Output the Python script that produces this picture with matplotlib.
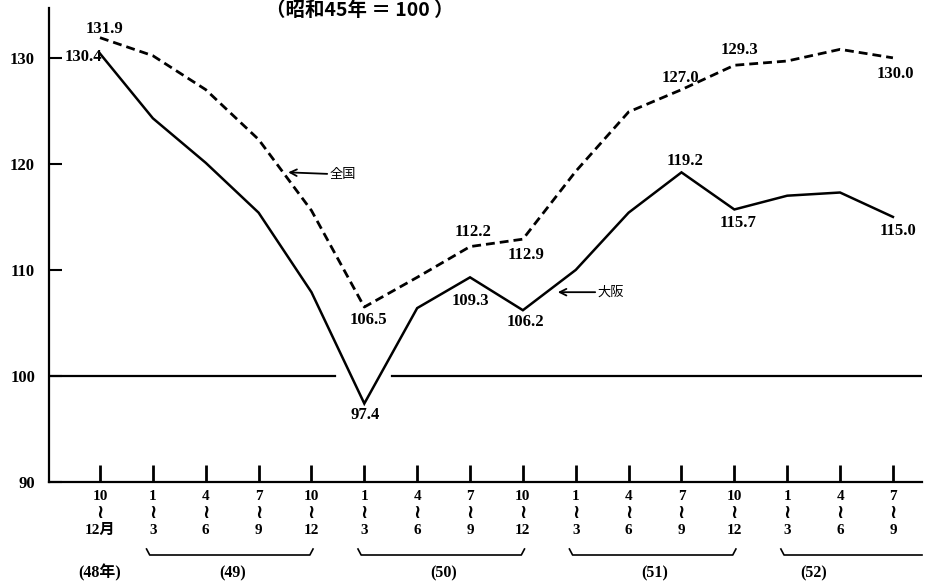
import matplotlib
matplotlib.use("Agg")
import matplotlib.pyplot as plt
from matplotlib import transforms

# ---------------- data ----------------
quarter_start = ["10", "1", "4", "7", "10", "1", "4", "7", "10", "1", "4", "7", "10", "1", "4", "7"]
quarter_end = ["12月", "3", "6", "9", "12", "3", "6", "9", "12", "3", "6", "9", "12", "3", "6", "9"]
year_labels = ["(48年)", "(49)", "(50)", "(51)", "(52)"]
year_label_pos = [0, 2.5, 6.5, 10.5, 13.5]
year_spans = [(1, 4), (5, 8), (9, 12), (13, None)]

national = [131.9, 130.2, 127.0, 122.3, 115.6, 106.5, 109.3, 112.2,
            112.9, 119.3, 124.9, 127.0, 129.3, 129.7, 130.8, 130.0]
osaka = [130.4, 124.3, 120.1, 115.4, 107.9, 97.4, 106.4, 109.3,
         106.2, 110.0, 115.4, 119.2, 115.7, 117.0, 117.3, 115.0]

national_labeled = [0, 5, 7, 8, 11, 12, 15]
osaka_labeled = [0, 5, 7, 8, 11, 12, 15]

yticks = [90, 100, 110, 120, 130]
title = "（昭和45年 ＝ 100 ）"

# ---------------- style ----------------
SERIF = ["Liberation Serif", "Noto Sans CJK JP", "DejaVu Sans"]
JP = ["Noto Sans CJK JP", "DejaVu Sans"]
plt.rcParams["font.family"] = SERIF

W, H = 934, 586
fig = plt.figure(figsize=(W / 100, H / 100), dpi=100)
ax_left, ax_right, ax_bottom, ax_top = 49, 922, 482, 8
ax = fig.add_axes([ax_left / W, (H - ax_bottom) / H,
                   (ax_right - ax_left) / W, (ax_bottom - ax_top) / H])
h_px = ax_bottom - ax_top

x = list(range(len(national)))
ax.set_xlim(-0.965, 15.55)
ax.set_ylim(90, 134.7)

ax.plot(x, osaka, color="black", lw=1.8, solid_joinstyle="miter")
ax.plot(x, national, color="black", lw=2.0, linestyle=(0, (3.2, 1.8)))

# baseline 100 with a gap
ax.axhline(100, xmin=0, xmax=0.3276, color="black", lw=1.6)
ax.axhline(100, xmin=0.393, xmax=1.0, color="black", lw=1.6)

for s in ["top", "right"]:
    ax.spines[s].set_visible(False)
for s in ["left", "bottom"]:
    ax.spines[s].set_linewidth(1.6)

ax.set_yticks(yticks)
ax.set_yticklabels([str(v) for v in yticks], fontsize=12, fontweight="bold")
ax.tick_params(axis="y", direction="in", length=9, width=1.5, pad=10)
ax.set_xticks(x)
ax.set_xticklabels([])
ax.tick_params(axis="x", direction="in", length=12, width=2.0)

# x tick labels (three rows)
for i in x:
    for txt, off, fs in [(quarter_start[i], -15, 11), ("≀", -32, 14),
                         (quarter_end[i], -48, 11)]:
        ax.annotate(txt, xy=(i, 0), xycoords=("data", "axes fraction"),
                    xytext=(0, off), textcoords="offset pixels",
                    ha="center", va="center", fontsize=fs, fontweight="bold",
                    family=SERIF, annotation_clip=False)

# year brackets
blend = transforms.blended_transform_factory(ax.transData, ax.transAxes)
y_low = -73 / h_px
y_hi = -67 / h_px
for a, b in year_spans:
    xs = a - 0.12
    if b is None:
        xe = ax.get_xlim()[1]
        ax.plot([xs, xs + 0.06, xe], [y_hi, y_low, y_low], color="black",
                lw=1.2, transform=blend, clip_on=False)
    else:
        xe = b + 0.03
        ax.plot([xs, xs + 0.06, xe - 0.06, xe], [y_hi, y_low, y_low, y_hi],
                color="black", lw=1.2, transform=blend, clip_on=False)

for lab, pos in zip(year_labels, year_label_pos):
    ax.annotate(lab, xy=(pos, 0), xycoords=("data", "axes fraction"),
                xytext=(0, -91), textcoords="offset pixels",
                ha="center", va="center", fontsize=11.5, fontweight="bold",
                family=SERIF, annotation_clip=False)

# value labels
nat_off = {0: (4, 9), 5: (4, -13), 7: (3, 15), 8: (3, -16), 11: (-1, 12),
           12: (5, 15), 15: (2, -16)}
osa_off = {0: (-17, -3), 5: (1, -11), 7: (0, -24), 8: (3, -12), 11: (4, 11),
           12: (4, -14), 15: (5, -14)}
for series, idxs, offs in [(national, national_labeled, nat_off),
                           (osaka, osaka_labeled, osa_off)]:
    for i in idxs:
        dx, dy = offs[i]
        ax.annotate(f"{series[i]:.1f}", xy=(i, series[i]), xytext=(dx, dy),
                    textcoords="offset pixels", ha="center", va="center",
                    fontsize=12, fontweight="bold", family=SERIF,
                    annotation_clip=False)

# series name callouts
ax.annotate("全国", xy=(3.56, 119.2), xytext=(4.35, 119.0),
            ha="left", va="center", fontsize=9.5, family=JP,
            arrowprops=dict(arrowstyle="->,head_length=0.5,head_width=0.25",
                            color="black", lw=1.3, shrinkA=0, shrinkB=0))
ax.annotate("大阪", xy=(8.66, 107.9), xytext=(9.42, 107.9),
            ha="left", va="center", fontsize=9.5, family=JP,
            arrowprops=dict(arrowstyle="->,head_length=0.5,head_width=0.25",
                            color="black", lw=1.3, shrinkA=0, shrinkB=0))

fig.text(360 / W, 1 - 10 / H, title, ha="center", va="center", fontsize=14,
         fontweight="bold", family=JP)

fig.savefig("out.png", dpi=100)
